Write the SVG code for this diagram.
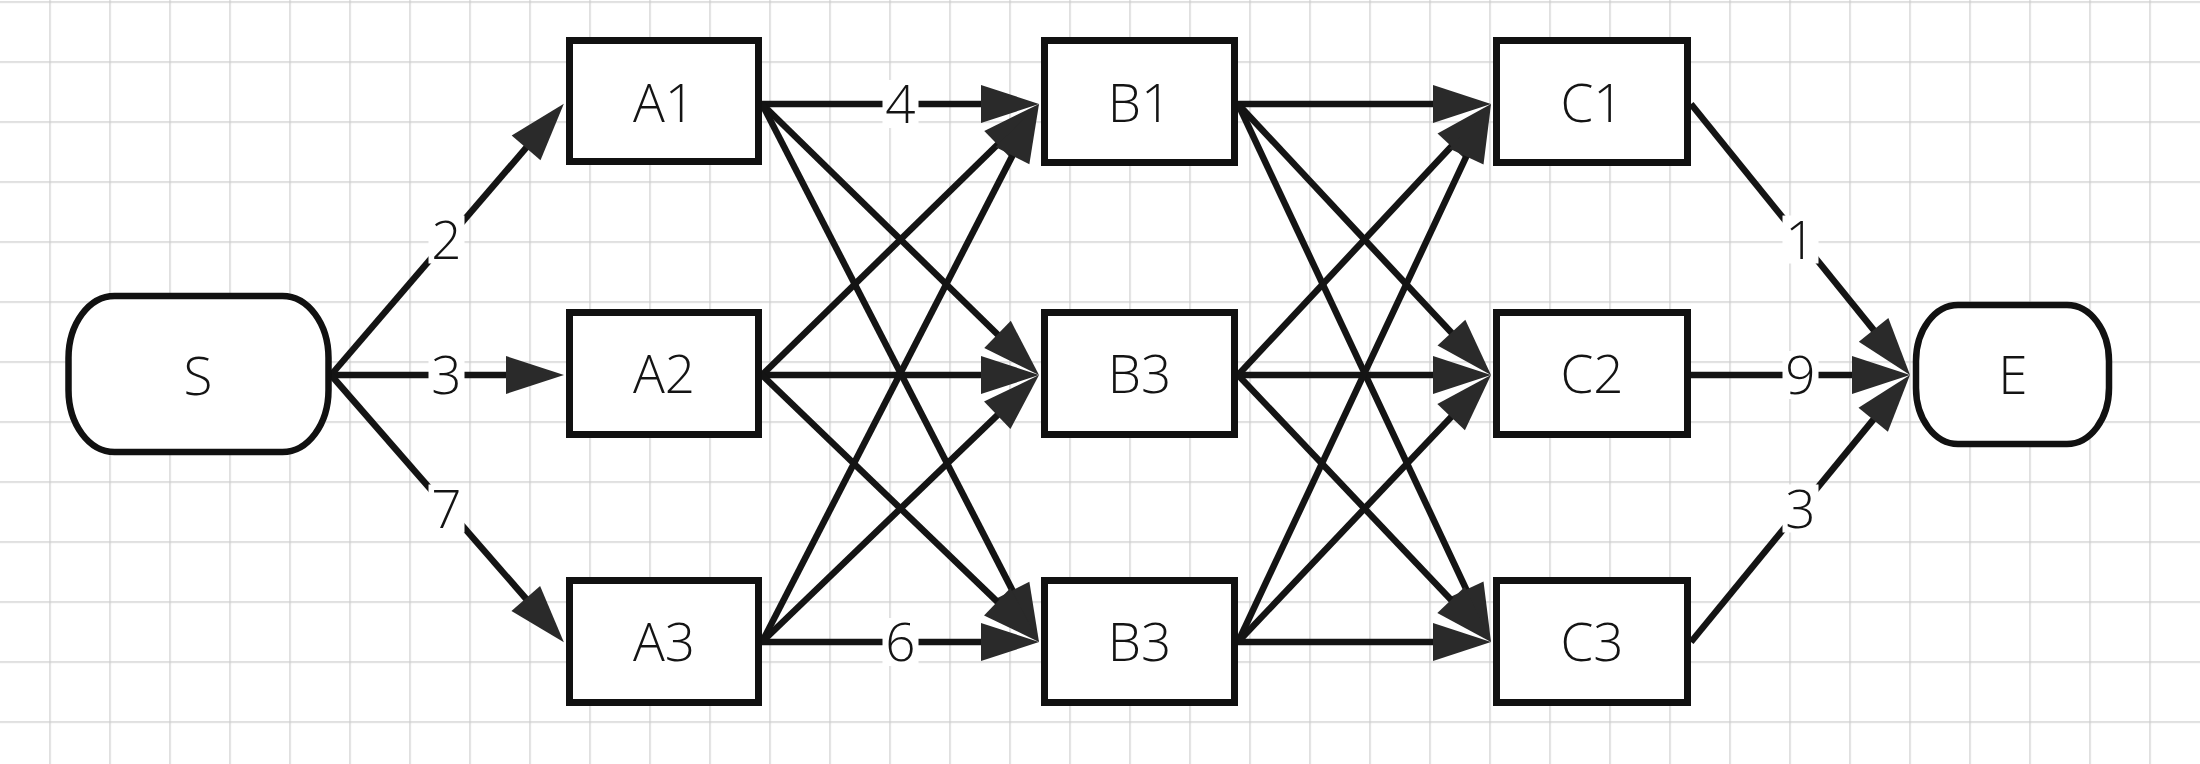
<svg xmlns="http://www.w3.org/2000/svg" width="2200" height="764" viewBox="0 0 2200 764">
<style>
.node{fill:#fff;stroke:#111;stroke-width:7}
.term{fill:#fff;stroke:#111;stroke-width:6.5}
.lbl{font-family:"Open Sans","Noto Sans","Liberation Sans",sans-serif;font-weight:300;font-size:53px;fill:#141414;text-anchor:middle}
.e{stroke:#141414;stroke-width:6.5;fill:none;marker-end:url(#arr)}
.bg{fill:#fff}
</style>
<defs>
<pattern id="grid" x="49.4" y="1.4" width="60" height="60" patternUnits="userSpaceOnUse">
<path d="M0.6,0 V60 M0,0.6 H60" stroke="#cccccc" stroke-width="1.2" fill="none"/>
</pattern>
<marker id="arr" markerUnits="userSpaceOnUse" markerWidth="58" markerHeight="38" refX="18" refY="19" orient="auto" overflow="visible">
<path d="M0,0 L58,19 L0,38 Z" fill="#2a2a2a"/>
</marker>
</defs>
<rect width="2200" height="764" fill="#fff"/>
<rect width="2200" height="764" fill="url(#grid)"/>

<g id="connectors">
<line class="e" x1="331" y1="375" x2="537.8" y2="134.2"/>
<line class="e" x1="331" y1="375" x2="524" y2="375"/>
<line class="e" x1="331" y1="375" x2="537.6" y2="612"/>

<line class="e" x1="762" y1="104" x2="999" y2="104"/>
<line class="e" x1="762" y1="104" x2="1010.4" y2="347"/>
<line class="e" x1="762" y1="104" x2="1020.7" y2="606.4"/>
<line class="e" x1="762" y1="375" x2="1010.4" y2="132"/>
<line class="e" x1="762" y1="375" x2="999" y2="375"/>
<line class="e" x1="762" y1="375" x2="1010.2" y2="614.2"/>
<line class="e" x1="762" y1="642" x2="1020.7" y2="139.6"/>
<line class="e" x1="762" y1="642" x2="1010.2" y2="402.8"/>
<line class="e" x1="762" y1="642" x2="999" y2="642"/>

<line class="e" x1="1238" y1="104" x2="1451" y2="104"/>
<line class="e" x1="1238" y1="104" x2="1463.7" y2="345.8"/>
<line class="e" x1="1238" y1="104" x2="1474" y2="605.8"/>
<line class="e" x1="1238" y1="375" x2="1463.7" y2="133.2"/>
<line class="e" x1="1238" y1="375" x2="1451" y2="375"/>
<line class="e" x1="1238" y1="375" x2="1463.5" y2="613"/>
<line class="e" x1="1238" y1="642" x2="1474" y2="140.2"/>
<line class="e" x1="1238" y1="642" x2="1463.5" y2="404"/>
<line class="e" x1="1238" y1="642" x2="1451" y2="642"/>

<line class="e" x1="1691" y1="104" x2="1884.9" y2="343.9"/>
<line class="e" x1="1691" y1="375" x2="1870" y2="375"/>
<line class="e" x1="1691" y1="642" x2="1884.6" y2="405.9"/>

<g id="edge-labels">
<rect class="bg" x="428.5" y="215.5" width="36" height="48"/>
<text class="lbl" x="446.5" y="258.5">2</text>
<rect class="bg" x="428.5" y="351" width="36" height="48"/>
<text class="lbl" x="446.5" y="394">3</text>
<rect class="bg" x="428.5" y="484.5" width="36" height="48"/>
<text class="lbl" x="446.5" y="527.5">7</text>
<rect class="bg" x="882.5" y="80" width="36" height="48"/>
<text class="lbl" x="900.5" y="123">4</text>
<rect class="bg" x="882.5" y="618" width="36" height="48"/>
<text class="lbl" x="900.5" y="661">6</text>
<rect class="bg" x="1782.5" y="215.5" width="36" height="48"/>
<text class="lbl" x="1800.5" y="258.5">1</text>
<rect class="bg" x="1782.5" y="351" width="36" height="48"/>
<text class="lbl" x="1800.5" y="394">9</text>
<rect class="bg" x="1782.5" y="484.5" width="36" height="48"/>
<text class="lbl" x="1800.5" y="527.5">3</text>
</g>
</g>

<g id="S"><rect class="term" x="68.5" y="296" width="260" height="156" rx="46" ry="62"/><text class="lbl" x="198" y="395">S</text></g>
<g id="A1"><rect class="node" x="569.5" y="40.5" width="189" height="121"/><text class="lbl" x="664" y="122">A1</text></g>
<g id="A2"><rect class="node" x="569.5" y="312.5" width="189" height="122"/><text class="lbl" x="664" y="393">A2</text></g>
<g id="A3"><rect class="node" x="569.5" y="580.5" width="189" height="122"/><text class="lbl" x="664" y="661">A3</text></g>
<g id="B1"><rect class="node" x="1044.5" y="40.5" width="190" height="122"/><text class="lbl" x="1139.5" y="122">B1</text></g>
<g id="B3a"><rect class="node" x="1044.5" y="312.5" width="190" height="122"/><text class="lbl" x="1139.5" y="393">B3</text></g>
<g id="B3b"><rect class="node" x="1044.5" y="580.5" width="190" height="122"/><text class="lbl" x="1139.5" y="661">B3</text></g>
<g id="C1"><rect class="node" x="1496.5" y="40.5" width="191" height="122"/><text class="lbl" x="1592" y="122">C1</text></g>
<g id="C2"><rect class="node" x="1496.5" y="312.5" width="191" height="122"/><text class="lbl" x="1592" y="393">C2</text></g>
<g id="C3"><rect class="node" x="1496.5" y="580.5" width="191" height="122"/><text class="lbl" x="1592" y="661">C3</text></g>
<g id="E"><rect class="term" x="1916" y="305" width="193" height="139" rx="42" ry="56"/><text class="lbl" x="2013" y="394">E</text></g>
</svg>
